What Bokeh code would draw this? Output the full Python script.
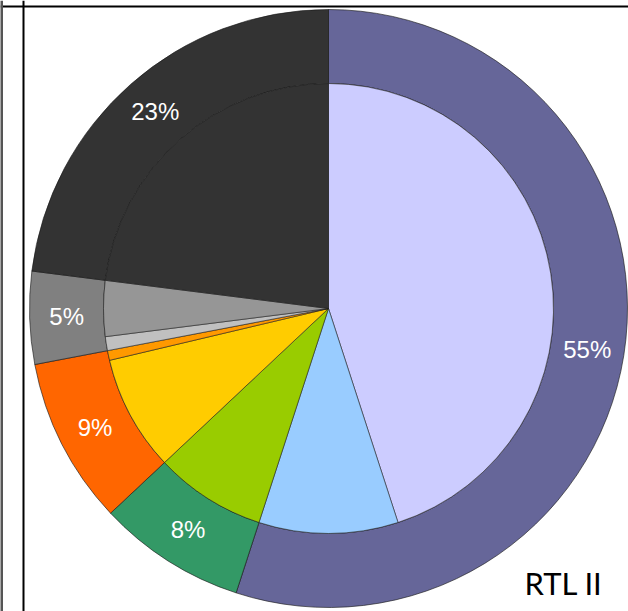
import numpy as np
from bokeh.plotting import figure
from bokeh.models import Range1d, ColumnDataSource, Span
from bokeh.core.properties import value
from bokeh.embed import file_html
from bokeh.resources import INLINE

# ---- data ----
outer_labels = ["55%", "8%", "9%", "5%", "23%"]
outer_values = [55, 8, 9, 5, 23]
outer_colors = ["#666699", "#339966", "#FF6600", "#808080", "#333333"]

inner_values = [45, 10, 8, 8.3, 0.7, 1, 4, 23]
inner_colors = ["#CCCCFF", "#99CCFF", "#99CC00", "#FFCC00", "#FF9900",
                "#C0C0C0", "#969696", "#333333"]

channel = "RTL II"

# ---- geometry (page pixels) ----
W, H = 628, 611
CX, CY = 328, -308
R_OUT, R_IN = 299, 225


def angles(vals):
    v = np.array(vals, dtype=float)
    frac = v / v.sum()
    cum = np.concatenate([[0], np.cumsum(frac)])
    start = np.pi / 2 - cum[:-1] * 2 * np.pi
    end = np.pi / 2 - cum[1:] * 2 * np.pi
    mid = np.pi / 2 - (cum[:-1] + cum[1:]) / 2 * 2 * np.pi
    return start, end, mid


p = figure(width=W, height=H, output_backend="svg", toolbar_location=None,
           x_range=Range1d(0, W), y_range=Range1d(-H, 0),
           min_border=0, outline_line_color=None)
p.axis.visible = False
p.grid.visible = False
p.background_fill_color = "white"

os_, oe_, om_ = angles(outer_values)
outer_src = ColumnDataSource(dict(start=os_, end=oe_, color=outer_colors,
                                  label=outer_labels,
                                  lx=CX + (R_OUT + R_IN) / 2 * np.cos(om_),
                                  ly=CY + (R_OUT + R_IN) / 2 * np.sin(om_)))
p.annular_wedge(x=CX, y=CY, inner_radius=R_IN, outer_radius=R_OUT,
                start_angle="start", end_angle="end", direction="clock",
                fill_color="color", line_color="#1a1a1a", line_width=0.8,
                line_alpha=0.8, source=outer_src)

is_, ie_, im_ = angles(inner_values)
inner_src = ColumnDataSource(dict(start=is_, end=ie_, color=inner_colors))
p.wedge(x=CX, y=CY, radius=R_IN, start_angle="start", end_angle="end",
        direction="clock", fill_color="color", line_color="#1a1a1a",
        line_width=0.8, line_alpha=0.7, source=inner_src)

p.text(x="lx", y="ly", text="label", source=outer_src,
       text_color="white", text_font=value("Liberation Sans"),
       text_font_size="24px", text_align="center", text_baseline="middle")

p.text(x=[524], y=[-582], text=[channel], text_color="black",
       text_font=value("Lato"), text_font_size="31px",
       text_align="left", text_baseline="alphabetic")

p.add_layout(Span(location=23, dimension="height", line_color="black",
                  line_width=2))
p.add_layout(Span(location=-6, dimension="width", line_color="black",
                  line_width=2))
p.add_layout(Span(location=1, dimension="height", line_color="#555555",
                  line_width=3))

open("out.html", "w").write(file_html(p, INLINE))
